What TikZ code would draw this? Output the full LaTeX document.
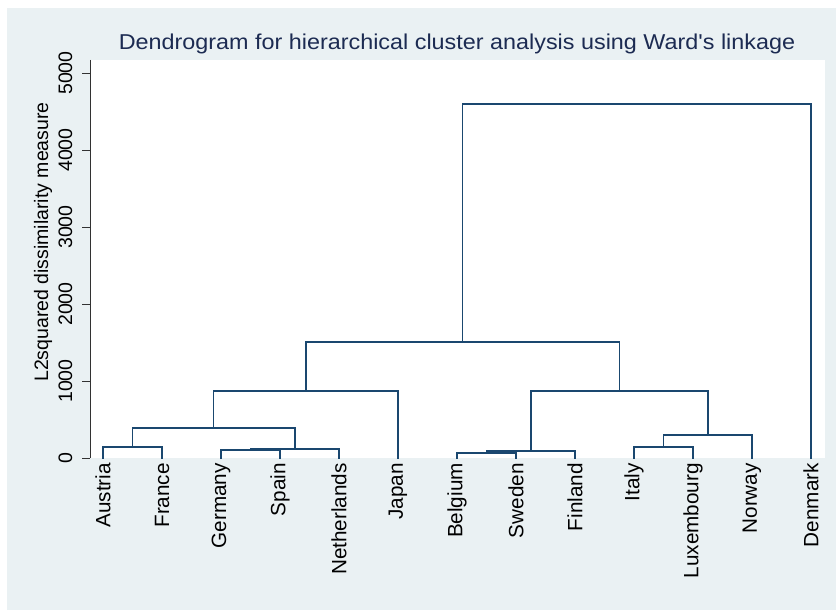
\documentclass[tikz,border=0pt]{standalone}
\usepackage{fontspec}
\setmainfont{Liberation Sans}
\definecolor{bgc}{RGB}{234,241,243}
\definecolor{navyc}{RGB}{26,71,111}
\definecolor{titlec}{RGB}{28,43,82}
\definecolor{axisc}{RGB}{50,50,50}
\newcommand{\straightquote}{\XeTeXglyph\numexpr\XeTeXcharglyph"0027\relax}
\tikzset{
  branch/.style={draw=navyc, line width=1.5pt, line cap=rect},
  leaflabel/.style={rotate=90, anchor=east, inner sep=0pt, font=\fontsize{20.7}{24}\selectfont, text=black},
  ticklabel/.style={rotate=90, anchor=center, inner sep=0pt, font=\fontsize{19.5}{22}\selectfont, text=black},
  axisline/.style={draw=axisc, line width=0.9pt},
}
\begin{document}
\begin{tikzpicture}[x=1pt,y=-1pt]
\useasboundingbox (0,0) rectangle (836,610);
% background
\fill[bgc] (7,8) rectangle (836,610);
\fill[white] (90,60) rectangle (825,458);
% title
\node[font=\fontsize{21.5}{24}\selectfont, text=titlec, inner sep=0pt] (title) at (457,44) {\scalebox{1.087}[1]{Dendrogram for hierarchical cluster analysis using Ward\straightquote s linkage}};
% y axis
\coordinate (ytop) at (90,60);
\coordinate (ybot) at (90,458);
\draw[axisline] (ytop) -- (ybot);
\foreach \v/\yy in {0/458,1000/381,2000/304,3000/227,4000/150,5000/73}{
  \coordinate (t\v) at (90,\yy);
  \coordinate (tl\v) at (82,\yy);
  \draw[axisline] (tl\v) -- (t\v);
  \node[ticklabel] (lab\v) at (65.5,\yy) {\v};
}
\node[rotate=90, inner sep=0pt, font=\fontsize{19.5}{23}\selectfont] (ytitle) at (43,242) {L2squared dissimilarity measure};
% leaves
\foreach \n/\name/\xx in {a/Austria/103, f/France/162, g/Germany/221, s/Spain/280, n/Netherlands/339, j/Japan/398, b/Belgium/457, w/Sweden/516, fi/Finland/575, i/Italy/634, l/Luxembourg/693, no/Norway/752, d/Denmark/811}{
  \coordinate (\n) at (\xx,458);
  \node[leaflabel] (lab\n) at (\xx,463) {\name};
}
% merge points
\coordinate (mAF) at (132.5,447);
\coordinate (mGS) at (250.5,450);
\coordinate (mGSN) at (294.75,449);
\coordinate (mAFGSN) at (213.6,428);
\coordinate (mL) at (305.8,391);
\coordinate (mBS) at (486.5,453);
\coordinate (mBSF) at (530.75,451);
\coordinate (mIL) at (663.5,447);
\coordinate (mILN) at (707.75,435);
\coordinate (mR) at (619.25,391);
\coordinate (mLR) at (462.5,342);
\coordinate (mTop) at (636.75,104);
% branches
\draw[branch] (a) |- (mAF) -| (f);
\draw[branch] (g) |- (mGS) -| (s);
\draw[branch] (mGS) |- (mGSN) -| (n);
\draw[branch] (mAF) |- (mAFGSN) -| (mGSN);
\draw[branch] (mAFGSN) |- (mL) -| (j);
\draw[branch] (b) |- (mBS) -| (w);
\draw[branch] (mBS) |- (mBSF) -| (fi);
\draw[branch] (i) |- (mIL) -| (l);
\draw[branch] (mIL) |- (mILN) -| (no);
\draw[branch] (mBSF) |- (mR) -| (mILN);
\draw[branch] (mL) |- (mLR) -| (mR);
\draw[branch] (mLR) |- (mTop) -| (d);
\end{tikzpicture}
\end{document}
